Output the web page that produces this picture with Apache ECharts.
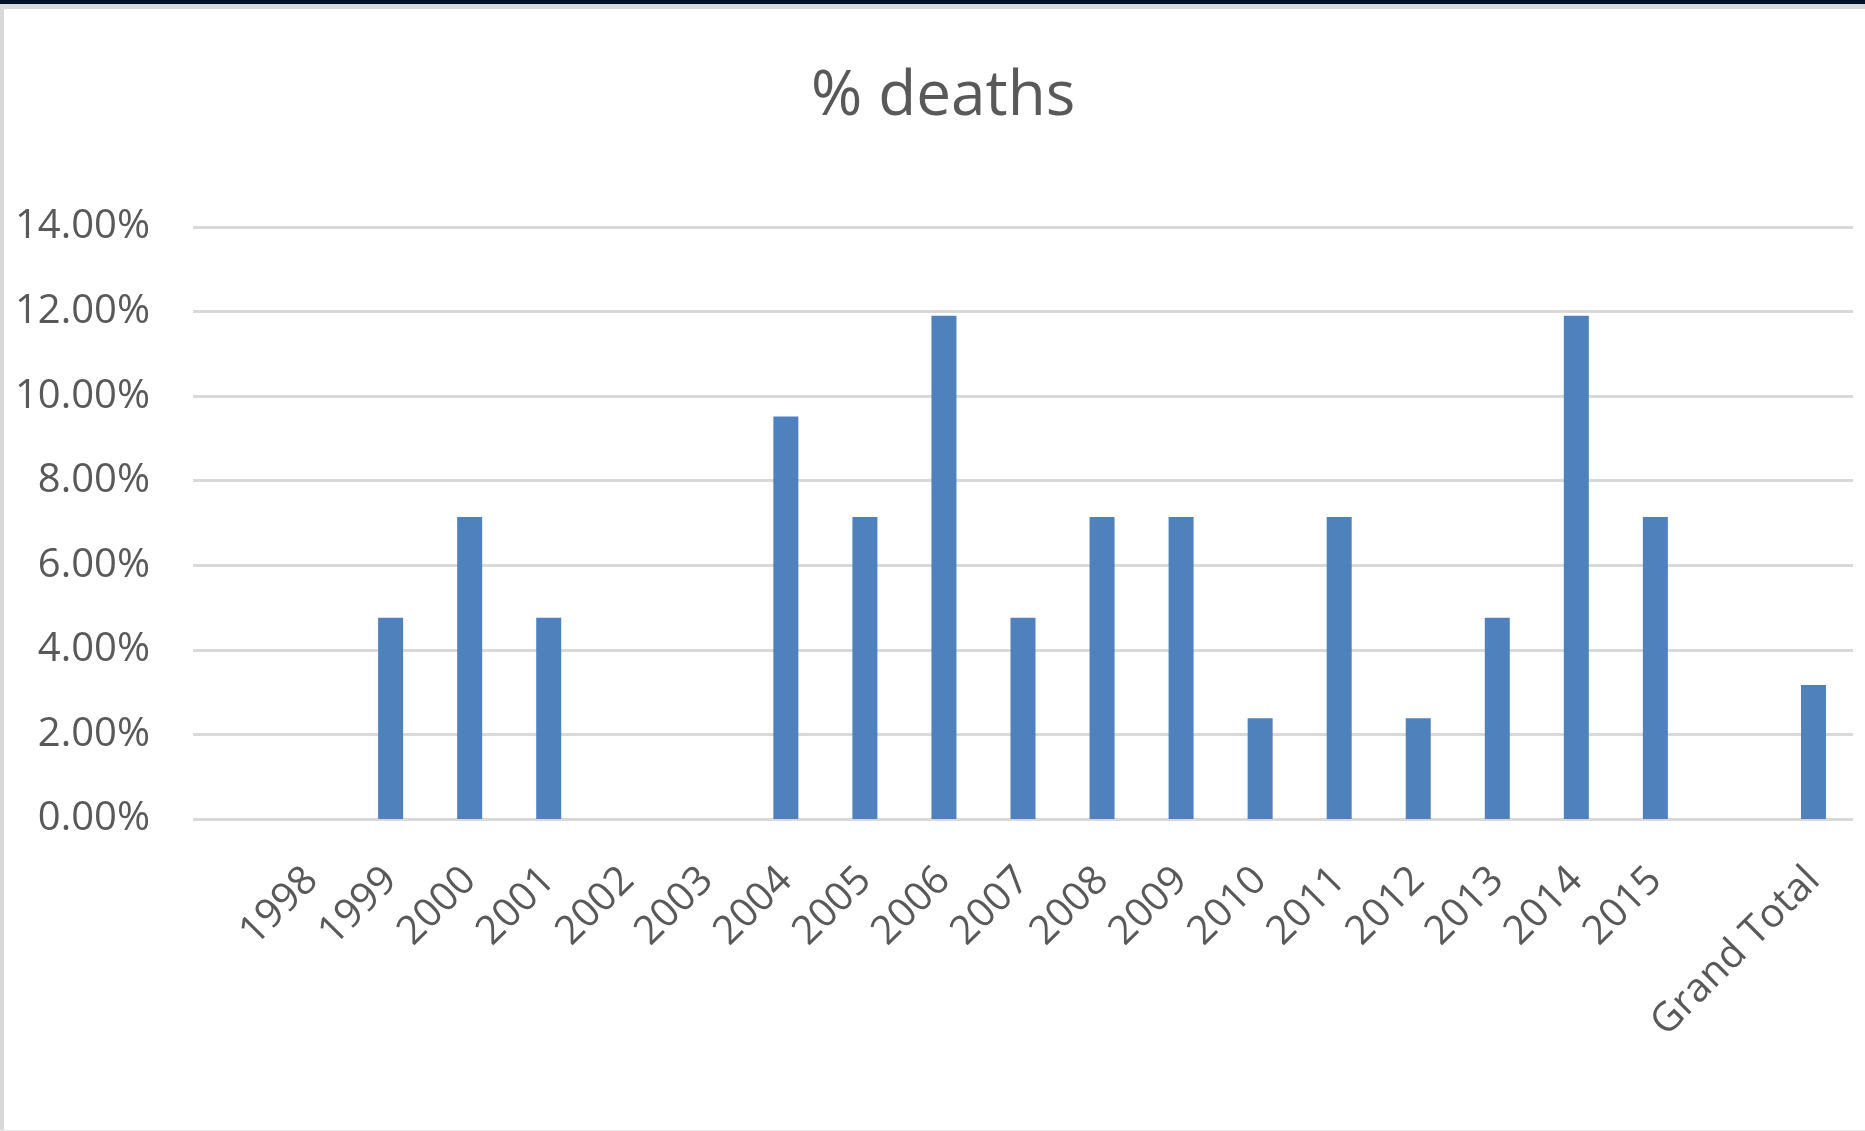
<!DOCTYPE html>
<html>
<head>
<meta charset="utf-8">
<script src="https://cdn.jsdelivr.net/npm/echarts@6/dist/echarts.min.js"></script>
<style>
  html, body { margin: 0; padding: 0; background: #fff; }
  #frame { position: absolute; left: 0; top: 0; width: 1865px; height: 1131px; overflow: hidden; }
  #topbar { position: absolute; left: 0; top: 0; width: 100%; height: 4px; background: #00112a; }
  #topgray { position: absolute; left: 0; top: 4px; width: 100%; height: 5px; background: #dadada; }
  #leftgray { position: absolute; left: 0; top: 4px; width: 4px; height: 100%; background: #d9d9d9; }
  #botgray { position: absolute; left: 0; bottom: 0; width: 100%; height: 1px; background: #e6e6e6; }
  #chart { position: absolute; left: 0; top: 0; width: 1865px; height: 1131px; }
</style>
</head>
<body>
<div id="frame">
  <div id="chart"></div>
  <div id="topbar"></div>
  <div id="topgray"></div>
  <div id="leftgray"></div>
  <div id="botgray"></div>
</div>
<script>
// categories (first and second-to-last slots are blank in the pivot chart)
const years = ['', '1998', '1999', '2000', '2001', '2002', '2003', '2004', '2005', '2006',
  '2007', '2008', '2009', '2010', '2011', '2012', '2013', '2014', '2015', '', 'Grand Total'];
// share of deaths per year
const deaths = [null, 0, 0.0476, 0.0714, 0.0476, 0, 0, 0.0952, 0.0714, 0.119,
  0.0476, 0.0714, 0.0714, 0.0238, 0.0714, 0.0238, 0.0476, 0.119, 0.0714, null, 0.0317];

const font = 'Open Sans';
let myChart = echarts.init(document.getElementById('chart'));
myChart.setOption({
  animation: false,
  title: {
    text: '% deaths',
    left: 806,
    top: 61,
    textStyle: { fontFamily: font, fontSize: 62, fontWeight: 'normal', color: '#595959' }
  },
  grid: { left: 193, right: 12, top: 227, bottom: 312, containLabel: false },
  xAxis: {
    type: 'category',
    data: years,
    axisLine: { show: false },
    axisTick: { show: false },
    axisLabel: {
      interval: 0,
      rotate: 45,
      margin: 55,
      fontFamily: font,
      fontSize: 40,
      color: '#595959'
    }
  },
  yAxis: {
    type: 'value',
    min: 0,
    max: 0.14,
    interval: 0.02,
    axisLine: { show: false },
    axisTick: { show: false },
    axisLabel: {
      margin: 43,
      fontFamily: font,
      fontSize: 40,
      color: '#595959',
      formatter: v => (v * 100).toFixed(2) + '%'
    },
    splitLine: { lineStyle: { color: '#d9d9d9', width: 3 } }
  },
  series: [{
    name: '% deaths',
    type: 'bar',
    data: deaths,
    barWidth: 25,
    itemStyle: { color: '#4f81bd' }
  }]
});
</script>
</body>
</html>
